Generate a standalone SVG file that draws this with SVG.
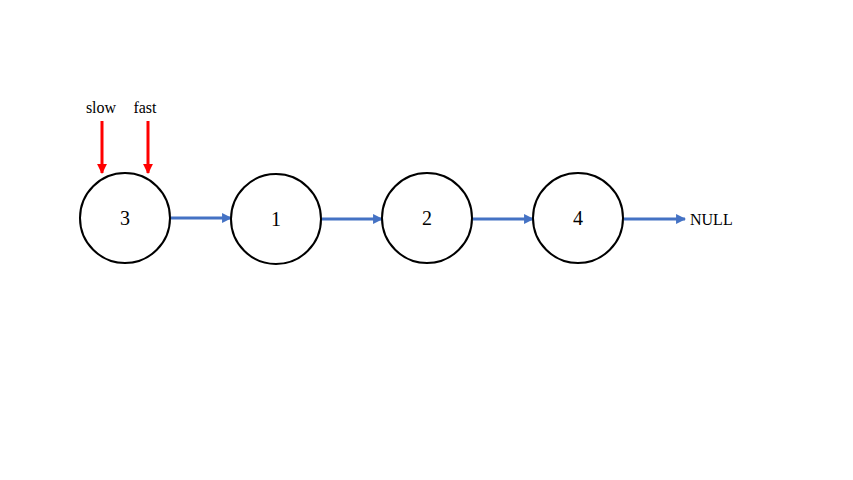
<svg xmlns="http://www.w3.org/2000/svg" width="853" height="480" viewBox="0 0 853 480">
<style>
.node{fill:#fff;stroke:#000;stroke-width:2}
.num{font-family:"Liberation Serif","Times New Roman",serif;font-size:20px;text-anchor:middle;fill:#000}
.lbl{font-family:"Liberation Serif","Times New Roman",serif;font-size:16px;fill:#000}
.blue{stroke:#4472C4;stroke-width:3;fill:none;marker-end:url(#ab)}
.red{stroke:#FF0000;stroke-width:3;fill:none;marker-end:url(#ar)}
</style>
<defs>
<marker id="ab" viewBox="0 0 10 10" refX="9" refY="5" markerWidth="3.3" markerHeight="3.3" markerUnits="strokeWidth" orient="auto"><path d="M0,0 L10,5 L0,10 z" fill="#4472C4"/></marker>
<marker id="ar" viewBox="0 0 10 10" refX="9" refY="5" markerWidth="3.3" markerHeight="3.3" markerUnits="strokeWidth" orient="auto"><path d="M0,0 L10,5 L0,10 z" fill="#FF0000"/></marker>
</defs>
<rect width="853" height="480" fill="#fff"/>
<g id="connectors">
<line class="blue" x1="171" y1="218" x2="231" y2="218"/>
<line class="blue" x1="322" y1="219" x2="382" y2="219"/>
<line class="blue" x1="473" y1="219" x2="533" y2="219"/>
<line class="blue" x1="624" y1="219" x2="685" y2="219"/>
<line class="red" x1="102" y1="121" x2="102" y2="173"/>
<line class="red" x1="148" y1="121" x2="148" y2="173"/>
</g>
<g id="n3"><circle class="node" cx="125" cy="218" r="45"/><text class="num" x="125" y="225">3</text></g>
<g id="n1"><circle class="node" cx="276" cy="219" r="45"/><text class="num" x="276" y="226">1</text></g>
<g id="n2"><circle class="node" cx="427" cy="218" r="45"/><text class="num" x="427" y="225">2</text></g>
<g id="n4"><circle class="node" cx="578" cy="218" r="45"/><text class="num" x="578" y="225">4</text></g>
<g id="null"><text class="lbl" x="690" y="225">NULL</text></g>
<g id="slow"><text class="lbl" x="101" y="113" text-anchor="middle">slow</text></g>
<g id="fast"><text class="lbl" x="145" y="113" text-anchor="middle">fast</text></g>
</svg>
